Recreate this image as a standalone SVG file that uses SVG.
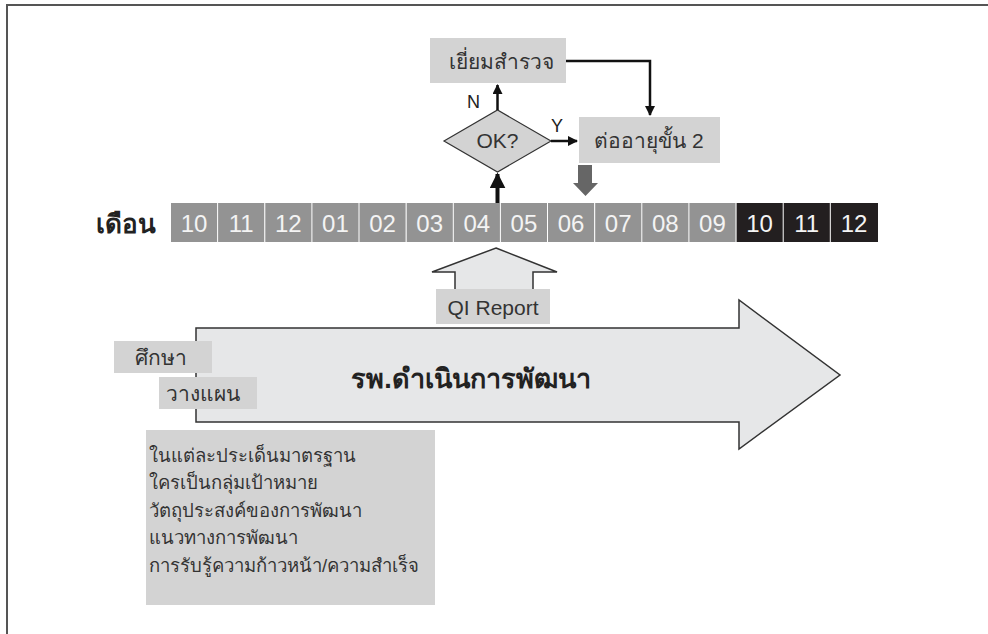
<svg xmlns="http://www.w3.org/2000/svg" width="988" height="634" viewBox="0 0 988 634">
  <style>
    text { font-family: "Liberation Sans", "Noto Sans", sans-serif; }
    .box { fill: #d3d3d3; }
    .lbl { font-size: 21px; fill: #333; }
    .list { font-size: 18.5px; fill: #333; }
    .cell { fill: #939393; }
    .cellDark { fill: #231f20; }
    .num { font-size: 24px; fill: #f4f4f4; text-anchor: middle; }
    .flow { fill: none; stroke: #111; stroke-width: 2.5; }
    .blk { fill: #e6e7e8; stroke: #333; stroke-width: 1.5; }
  </style>
  <defs>
    <marker id="ah" viewBox="0 0 10 10" refX="9" refY="5" markerWidth="4" markerHeight="4" orient="auto-start-reverse" markerUnits="strokeWidth">
      <path d="M0,0 L10,5 L0,10 z" fill="#111"/>
    </marker>
  </defs>

  <rect width="988" height="634" fill="#fff"/>
  <!-- page frame (top and left edges) -->
  <path d="M988,5 H7 V634" fill="none" stroke="#555" stroke-width="2"/>

  <!-- month timeline -->
  <g id="timeline">
    <text x="96" y="233" font-size="26" font-weight="bold" fill="#222">เดือน</text>
    <rect class="cell" x="171" y="203" width="46.1" height="39"/>
    <rect class="cell" x="218.1" y="203" width="46.1" height="39"/>
    <rect class="cell" x="265.3" y="203" width="46.1" height="39"/>
    <rect class="cell" x="312.4" y="203" width="46.1" height="39"/>
    <rect class="cell" x="359.5" y="203" width="46.1" height="39"/>
    <rect class="cell" x="406.7" y="203" width="46.1" height="39"/>
    <rect class="cell" x="453.8" y="203" width="46.1" height="39"/>
    <rect class="cell" x="500.9" y="203" width="46.1" height="39"/>
    <rect class="cell" x="548" y="203" width="46.1" height="39"/>
    <rect class="cell" x="595.2" y="203" width="46.1" height="39"/>
    <rect class="cell" x="642.3" y="203" width="46.1" height="39"/>
    <rect class="cell" x="689.4" y="203" width="46.1" height="39"/>
    <rect class="cellDark" x="736.6" y="203" width="46.1" height="39"/>
    <rect class="cellDark" x="783.7" y="203" width="46.1" height="39"/>
    <rect class="cellDark" x="830.8" y="203" width="47.2" height="39"/>
    <text class="num" x="194" y="232">10</text>
    <text class="num" x="241.1" y="232">11</text>
    <text class="num" x="288.3" y="232">12</text>
    <text class="num" x="335.4" y="232">01</text>
    <text class="num" x="382.5" y="232">02</text>
    <text class="num" x="429.7" y="232">03</text>
    <text class="num" x="476.8" y="232">04</text>
    <text class="num" x="523.9" y="232">05</text>
    <text class="num" x="571" y="232">06</text>
    <text class="num" x="618.2" y="232">07</text>
    <text class="num" x="665.3" y="232">08</text>
    <text class="num" x="712.4" y="232">09</text>
    <text class="num" x="759.6" y="232">10</text>
    <text class="num" x="806.7" y="232">11</text>
    <text class="num" x="854" y="232">12</text>
  </g>

  <!-- decision flow -->
  <g id="survey">
    <rect class="box" x="430" y="38" width="136" height="45"/>
    <text class="lbl" x="501" y="69" text-anchor="middle">เยี่ยมสำรวจ</text>
  </g>
  <g id="decision">
    <path d="M444,141 L497.5,110 L551,141 L497.5,172 z" fill="#d3d3d3" stroke="#333" stroke-width="1.2"/>
    <text x="497.5" y="148" font-size="21" fill="#333" text-anchor="middle">OK?</text>
  </g>
  <g id="renew">
    <rect class="box" x="579" y="117" width="141" height="46"/>
    <text class="lbl" x="649" y="148" text-anchor="middle">ต่ออายุขั้น 2</text>
  </g>

  <g id="connectors">
    <path class="flow" d="M566,61 H650 V115" marker-end="url(#ah)"/>
    <path class="flow" d="M497.5,110 V85" marker-end="url(#ah)"/>
    <path class="flow" d="M551,141 H577" marker-end="url(#ah)"/>
    <path d="M497.5,203 V174" fill="none" stroke="#111" stroke-width="4" marker-end="url(#ah)"/>
    <text x="467" y="108" font-size="18" fill="#222">N</text>
    <text x="551" y="132" font-size="18" fill="#222">Y</text>
    <!-- grey drop arrow into the timeline -->
    <path d="M578,165 H592 V183 H598 L585.5,196 L573,183 H578 z" fill="#666"/>
  </g>

  <!-- QI report feeding the timeline -->
  <g id="qi-report">
    <path class="blk" d="M496,248 L557,272 H533 V292 H455 V272 H432 z"/>
    <rect class="box" x="436" y="289" width="114" height="35"/>
    <text class="lbl" x="493" y="315" text-anchor="middle">QI Report</text>
  </g>

  <!-- main development arrow -->
  <g id="develop">
    <path class="blk" d="M196,328 H739 V300 L840,375 L739,449 V422 H196 z"/>
    <text x="471" y="388" font-size="27" font-weight="bold" fill="#222" text-anchor="middle">รพ.ดำเนินการพัฒนา</text>
  </g>

  <g id="study">
    <rect class="box" x="114" y="341" width="98" height="32"/>
    <text class="lbl" x="135" y="365">ศึกษา</text>
  </g>
  <g id="plan">
    <rect class="box" x="159" y="377" width="98" height="32"/>
    <text class="lbl" x="166" y="401">วางแผน</text>
  </g>

  <g id="plan-details">
    <rect class="box" x="146" y="430" width="289" height="175"/>
    <text class="list" x="149" y="462">ในแต่ละประเด็นมาตรฐาน</text>
    <text class="list" x="149" y="489">ใครเป็นกลุ่มเป้าหมาย</text>
    <text class="list" x="149" y="517">วัตถุประสงค์ของการพัฒนา</text>
    <text class="list" x="149" y="544">แนวทางการพัฒนา</text>
    <text class="list" x="149" y="572">การรับรู้ความก้าวหน้า/ความสำเร็จ</text>
  </g>
</svg>
